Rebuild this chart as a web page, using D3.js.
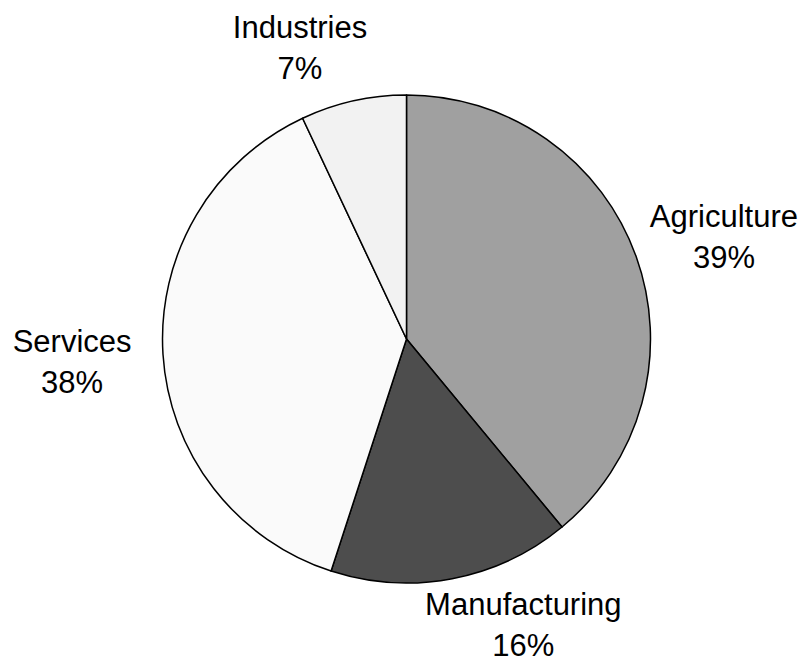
<!DOCTYPE html>
<html>
<head>
<meta charset="utf-8">
<script src="https://cdn.jsdelivr.net/npm/d3@7"></script>
<style>
  body { margin: 0; background: #fff; }
  svg { display: block; }
</style>
</head>
<body>
<div id="chart"></div>
<script>
// Chart data
const categories = ['Agriculture', 'Manufacturing', 'Services', 'Industries'];
const shares = [39, 16, 38, 7];
const sliceColors = ['#a0a0a0', '#4d4d4d', '#fafafa', '#f2f2f2'];

// Layout
const width = 803;
const height = 658;
const cx = 406.5;
const cy = 339;
const radius = 244;
const labelRadius = radius + 70;
const fontSize = 31;
const lineGap = 41;
// small nudges so the labels sit where the original placed them
const labelNudge = {
    Agriculture: [22, 4],
    Manufacturing: [58, -23],
    Services: [-21, 3],
    Industries: [-38, 15]
};

const data = categories.map((c, i) => ({ name: c, value: shares[i], color: sliceColors[i] }));

const svg = d3.select('#chart')
    .append('svg')
    .attr('width', width)
    .attr('height', height);

const g = svg.append('g')
    .attr('transform', `translate(${cx},${cy})`);

const pie = d3.pie()
    .value(d => d.value)
    .sort(null);

const arc = d3.arc()
    .innerRadius(0)
    .outerRadius(radius);

const labelArc = d3.arc()
    .innerRadius(labelRadius)
    .outerRadius(labelRadius);

const arcs = pie(data);

// Slices
g.selectAll('path.slice')
    .data(arcs)
    .enter()
    .append('path')
    .attr('class', 'slice')
    .attr('d', arc)
    .attr('fill', d => d.data.color)
    .attr('stroke', '#000')
    .attr('stroke-width', 1.5)
    .attr('stroke-linejoin', 'round');

// Labels
const labels = g.selectAll('text.label')
    .data(arcs)
    .enter()
    .append('text')
    .attr('class', 'label')
    .attr('text-anchor', 'middle')
    .style('font-family', 'Liberation Sans, Arial, sans-serif')
    .style('font-size', fontSize + 'px')
    .attr('fill', '#000')
    .attr('transform', d => {
        const [x, y] = labelArc.centroid(d);
        const [nx, ny] = labelNudge[d.data.name] || [0, 0];
        return `translate(${x + nx},${y + ny})`;
    });

labels.append('tspan')
    .attr('x', 0)
    .attr('y', -9.5)
    .text(d => d.data.name);

labels.append('tspan')
    .attr('x', 0)
    .attr('y', -9.5 + lineGap)
    .text(d => d.data.value + '%');
</script>
</body>
</html>
